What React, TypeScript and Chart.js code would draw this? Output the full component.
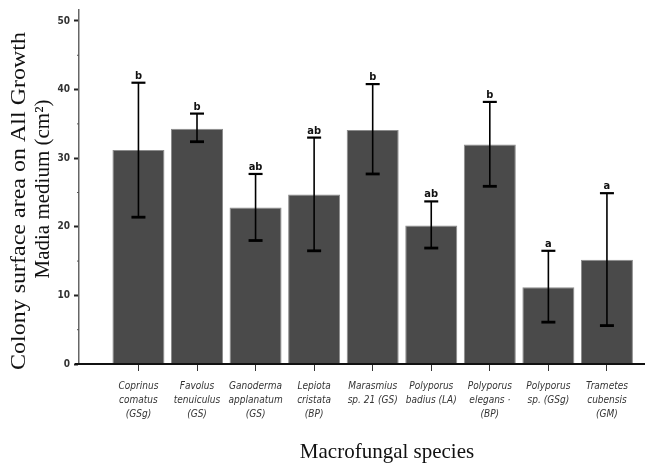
import React, { useEffect, useRef } from "react";
import { Chart, registerables } from "chart.js";

Chart.register(...registerables);

const speciesLabels: string[][] = [
  ["Coprinus", "comatus", "(GSg)"],
  ["Favolus", "tenuiculus", "(GS)"],
  ["Ganoderma", "applanatum", "(GS)"],
  ["Lepiota", "cristata", "(BP)"],
  ["Marasmius", "sp. 21 (GS)"],
  ["Polyporus", "badius (LA)"],
  ["Polyporus", "elegans ·", "(BP)"],
  ["Polyporus", "sp. (GSg)"],
  ["Trametes", "cubensis", "(GM)"],
];
const meanArea = [31.2, 34.3, 22.8, 24.7, 34.1, 20.2, 32.0, 11.2, 15.2];
const errorUpper = [41.0, 36.5, 27.7, 33.0, 40.8, 23.7, 38.2, 16.5, 24.9];
const errorLower = [21.4, 32.4, 18.0, 16.5, 27.7, 16.9, 25.9, 6.1, 5.6];
const groupLetters = ["b", "b", "ab", "ab", "b", "ab", "b", "a", "a"];
const yTicks = [0, 10, 20, 30, 40, 50];
const yMinorTicks = [5, 15, 25, 35, 45];
const yTitleLines = ["Colony surface area on All Growth", "Madia medium (cm\u00B2)"];
const xTitle = "Macrofungal species";

const narrow = "'Liberation Sans Narrow', 'DejaVu Sans Condensed', 'Liberation Sans', Arial, sans-serif";
const serif = "'Liberation Serif', 'Times New Roman', serif";

const overlayPlugin = {
  id: "overlay",
  afterDatasetsDraw(chart: any) {
    const ctx = chart.ctx as CanvasRenderingContext2D;
    const xs = chart.scales.x;
    const ys = chart.scales.y;
    const area = chart.chartArea;
    ctx.save();
    // error bars
    meanArea.forEach((_, i) => {
      const x = xs.getPixelForValue(i);
      const yt = ys.getPixelForValue(errorUpper[i]);
      const yb = ys.getPixelForValue(errorLower[i]);
      ctx.strokeStyle = "#000";
      ctx.lineWidth = 1.6;
      ctx.beginPath();
      ctx.moveTo(x, yt);
      ctx.lineTo(x, yb);
      ctx.stroke();
      ctx.lineWidth = 2.2;
      ctx.beginPath();
      ctx.moveTo(x - 7, yt);
      ctx.lineTo(x + 7, yt);
      ctx.stroke();
      ctx.lineWidth = 2.8;
      ctx.beginPath();
      ctx.moveTo(x - 7, yb);
      ctx.lineTo(x + 7, yb);
      ctx.stroke();
      ctx.fillStyle = "#111";
      ctx.font = `bold 11px ${narrow}`;
      ctx.textAlign = "center";
      ctx.textBaseline = "alphabetic";
      ctx.fillText(groupLetters[i], x, yt - 4);
    });
    // x axis line
    ctx.strokeStyle = "#111";
    ctx.lineWidth = 2;
    ctx.beginPath();
    ctx.moveTo(area.left - 4, area.bottom);
    ctx.lineTo(chart.width, area.bottom);
    ctx.stroke();
    // minor y ticks
    ctx.strokeStyle = "#555";
    ctx.lineWidth = 1;
    yMinorTicks.forEach((v) => {
      const y = ys.getPixelForValue(v);
      ctx.beginPath();
      ctx.moveTo(area.left - 2, y);
      ctx.lineTo(area.left, y);
      ctx.stroke();
    });
    // titles
    ctx.fillStyle = "#111";
    ctx.textAlign = "center";
    ctx.textBaseline = "middle";
    ctx.font = `22px ${serif}`;
    const w1 = ctx.measureText(yTitleLines[0]).width;
    const s1 = w1 > 0 ? 338 / w1 : 1;
    ctx.save();
    ctx.translate(19, 201);
    ctx.rotate(-Math.PI / 2);
    ctx.scale(s1, 1);
    ctx.fillText(yTitleLines[0], 0, 0);
    ctx.restore();
    ctx.font = `21px ${serif}`;
    ctx.save();
    ctx.translate(43, 189);
    ctx.rotate(-Math.PI / 2);
    ctx.fillText(yTitleLines[1], 0, 0);
    ctx.restore();
    ctx.font = `21px ${serif}`;
    ctx.fillText(xTitle, 387, 452);
    ctx.restore();
  },
};

export default function App() {
  const ref = useRef<HTMLCanvasElement | null>(null);
  useEffect(() => {
    if (!ref.current) return;
    const chart = new Chart(ref.current, {
      type: "bar",
      data: {
        datasets: [
          {
            data: meanArea.map((v, i) => ({ x: i, y: v })),
            backgroundColor: "#4a4a4a",
            borderColor: "#8c8c8c",
            borderWidth: 1,
            barPercentage: 0.888,
            categoryPercentage: 1,
          },
        ],
      },
      options: {
        animation: false,
        responsive: false,
        layout: { padding: { top: 9, left: 0, right: 0, bottom: 0 } },
        plugins: { legend: { display: false }, tooltip: { enabled: false } },
        scales: {
          x: {
            type: "linear",
            offset: false,
            min: -1.015,
            max: 8.65,
            afterBuildTicks: (scale: any) => {
              scale.ticks = speciesLabels.map((_, i) => ({ value: i }));
            },
            afterFit: (scale: any) => {
              scale.height = 463 - 364;
            },
            border: { display: false },
            grid: {
              offset: false,
              drawOnChartArea: false,
              drawTicks: true,
              tickLength: 7,
              tickColor: "#333",
              tickWidth: 1,
            },
            ticks: {
              autoSkip: false,
              maxRotation: 0,
              minRotation: 0,
              padding: 9,
              color: "#333",
              font: { family: narrow, size: 10, style: "italic", lineHeight: 1.38 },
              callback: (v: any) => speciesLabels[Math.round(Number(v))] ?? "",
            },
          },
          y: {
            type: "linear",
            min: 0,
            max: 51.6,
            afterBuildTicks: (scale: any) => {
              scale.ticks = yTicks.map((v) => ({ value: v }));
            },
            afterFit: (scale: any) => {
              scale.width = 79;
            },
            border: { display: true, color: "#666", width: 1.5 },
            grid: {
              drawOnChartArea: false,
              drawTicks: true,
              tickLength: 5,
              tickColor: "#222",
              tickWidth: 2,
            },
            ticks: {
              padding: 4,
              color: "#333",
              font: { family: narrow, size: 10, weight: "bold" },
              callback: (v: any) => String(v),
            },
          },
        },
      },
      plugins: [overlayPlugin],
    } as any);
    return () => chart.destroy();
  }, []);
  return (
    <div style={{ position: "fixed", left: 0, top: 0, width: 645, height: 463, background: "#fff" }}>
      <canvas ref={ref} width={645} height={463} style={{ display: "block", width: 645, height: 463 }} />
    </div>
  );
}
